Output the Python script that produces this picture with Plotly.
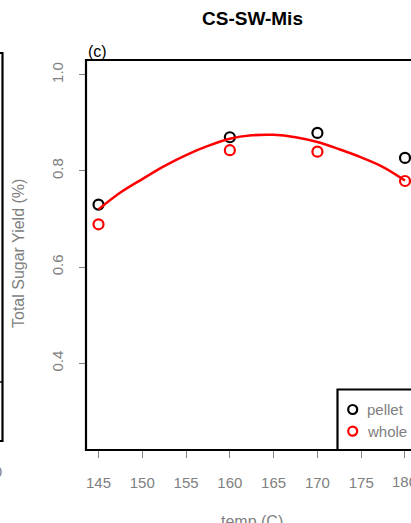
import plotly.graph_objects as go

# ---- data ----
temp = [145, 160, 170, 180]
pellet = [0.730, 0.870, 0.879, 0.827]
whole = [0.689, 0.843, 0.840, 0.779]

fit_temp = [145, 147.5, 150, 152.5, 155, 157.5, 160, 162.5, 165, 167.5, 170, 172.5, 175, 177.5, 180]
fit_yield = [0.720, 0.755, 0.783, 0.810, 0.833, 0.852, 0.867, 0.874, 0.875, 0.870, 0.860, 0.845, 0.828, 0.808, 0.780]

x_ticks = [145, 150, 155, 160, 165, 170, 175, 180]
y_ticks = [0.4, 0.6, 0.8, 1.0]
y_tick_text = ["0.4", "0.6", "0.8", "1.0"]

title_text = "CS-SW-Mis"
panel_label = "(c)"
x_title = "temp (C)"
y_title = "Total Sugar Yield (%)"
legend_names = ["pellet", "whole"]
series_colors = ["black", "red"]

# ---- layout geometry (pixels) ----
W, H = 411, 523
L, T, B = 87, 60, 450
PW, PH = W - L, B - T
GREY = "#808080"
FONT = "Liberation Sans, Arial, sans-serif"


def px(x):
    return (x - L) / PW


def py(y):
    return (B - y) / PH


fig = go.Figure()
fig.add_trace(go.Scatter(x=temp, y=pellet, mode="markers", name=legend_names[0],
                         marker=dict(symbol="circle-open", size=10, color=series_colors[0],
                                     line=dict(width=2.2, color=series_colors[0]))))
fig.add_trace(go.Scatter(x=temp, y=whole, mode="markers", name=legend_names[1],
                         marker=dict(symbol="circle-open", size=10, color=series_colors[1],
                                     line=dict(width=2.2, color=series_colors[1]))))
fig.add_trace(go.Scatter(x=fit_temp, y=fit_yield, mode="lines", line=dict(color="red", width=2.5, shape="spline"),
                         showlegend=False))

shapes = []
# plot box (top, left, bottom) - right side is outside the picture
shapes.append(dict(type="path", xref="paper", yref="paper",
                   path=f"M {px(W+10)},{py(T)} L {px(L-1)},{py(T)} L {px(L-1)},{py(B)} L {px(W+10)},{py(B)}",
                   line=dict(color="black", width=2.2)))
# remnant of the neighbouring panel on the left
shapes.append(dict(type="path", xref="paper", yref="paper",
                   path=f"M {px(-2)},{py(53)} L {px(2.5)},{py(53)} L {px(2.5)},{py(441)} L {px(-2)},{py(441)}",
                   line=dict(color="black", width=2.2)))
shapes.append(dict(type="line", xref="paper", yref="paper",
                   x0=px(-2), x1=px(2.5), y0=py(382), y1=py(382), line=dict(color="black", width=1.5)))
# legend box
shapes.append(dict(type="rect", xref="paper", yref="paper",
                   x0=px(337.5), x1=px(W + 10), y0=py(B), y1=py(389.5),
                   line=dict(color="black", width=2.2), fillcolor="white"))
# legend symbols
for i, c in enumerate(series_colors):
    cy = 409.5 + 21.7 * i
    shapes.append(dict(type="circle", xref="paper", yref="paper",
                       x0=px(352.7 - 4.5), x1=px(352.7 + 4.5), y0=py(cy + 4.5), y1=py(cy - 4.5),
                       line=dict(color=c, width=2.2)))

annotations = [
    dict(text=f"<b>{title_text}</b>", xref="paper", yref="paper", x=px(252), y=py(19),
         xanchor="center", yanchor="middle", showarrow=False, font=dict(size=19, color="black", family=FONT)),
    dict(text=panel_label, xref="paper", yref="paper", x=px(86), y=py(51),
         xanchor="left", yanchor="middle", showarrow=False, font=dict(size=16, color="black", family=FONT)),
    dict(text=x_title, xref="paper", yref="paper", x=px(252), y=py(511),
         xanchor="center", yanchor="top", showarrow=False, font=dict(size=16, color=GREY, family=FONT)),
    dict(text=y_title, xref="paper", yref="paper", x=px(18), y=py(254), textangle=-90,
         xanchor="center", yanchor="middle", showarrow=False, font=dict(size=16, color=GREY, family=FONT)),
    dict(text="180", xref="paper", yref="paper", x=px(3.5), y=py(471),
         xanchor="right", yanchor="middle", showarrow=False, font=dict(size=15, color=GREY, family=FONT)),
    # last x tick label, partly outside the picture as in the reference
    dict(text=str(x_ticks[-1]), xref="x", yref="paper", x=x_ticks[-1], y=py(481),
         xanchor="center", yanchor="middle", showarrow=False, font=dict(size=15, color=GREY, family=FONT)),
]
for i, name in enumerate(legend_names):
    annotations.append(dict(text=name, xref="paper", yref="paper", x=px(365), y=py(409.5 + 21.7 * i),
                            xanchor="left", yanchor="middle", showarrow=False,
                            font=dict(size=15, color=GREY, family=FONT)))

fig.update_layout(
    width=W, height=H,
    margin=dict(l=L, r=0, t=T, b=H - B, autoexpand=False),
    paper_bgcolor="white", plot_bgcolor="white",
    showlegend=False,
    font=dict(family=FONT, color=GREY),
    shapes=shapes,
    annotations=annotations,
    xaxis=dict(range=[145 - (98.5 - L) / 8.757, 145 + (W - 98.5) / 8.757],
               tickvals=x_ticks, ticks="outside", ticklen=7, tickwidth=1, tickcolor=GREY,
               tickfont=dict(size=15, color=GREY, family=FONT), ticklabelstandoff=12,
               showgrid=False, zeroline=False, showline=False),
    yaxis=dict(range=[1.0 - (B - 74.7) / 481.0, 1.0 + (74.7 - T) / 481.0],
               tickvals=y_ticks, ticktext=y_tick_text, ticks="outside", ticklen=7, tickwidth=1, tickcolor=GREY,
               tickangle=-90, tickfont=dict(size=15, color=GREY, family=FONT), ticklabelstandoff=10,
               showgrid=False, zeroline=False, showline=False),
)

fig.write_html("out.html")
